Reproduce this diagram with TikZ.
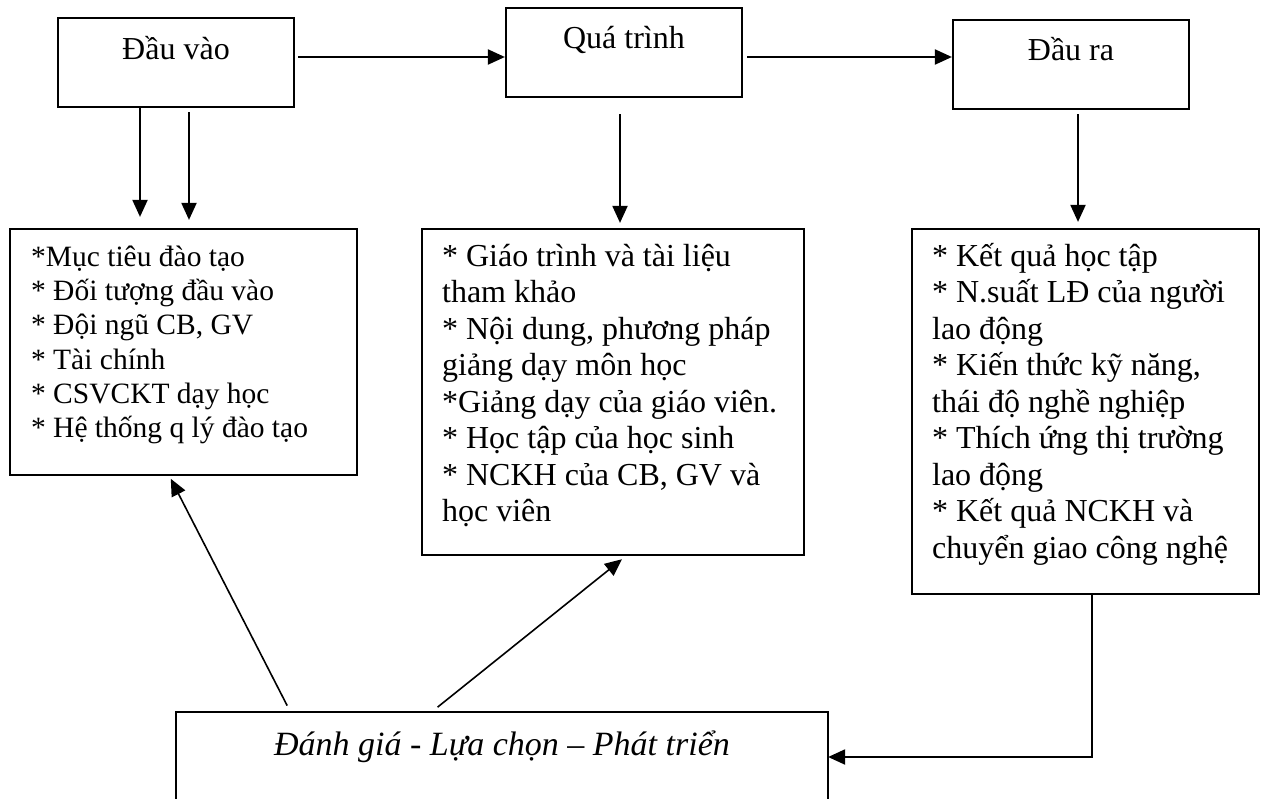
\documentclass[tikz,border=0pt]{standalone}
\usepackage{fontspec}
\setmainfont{Liberation Serif}
\usetikzlibrary{arrows.meta,calc}
\lineskiplimit=-100pt
\lineskip=0pt
\newcommand{\firstline}[1]{\vrule height #1 depth 0pt width 0pt}
\begin{document}
\begin{tikzpicture}[x=1pt,y=-1pt,
  box/.style={draw, rectangle, line width=2.2pt, inner sep=0pt},
  head/.style={inner sep=0pt, anchor=base, font=\fontsize{32}{36.5}\selectfont},
  list/.style={inner sep=0pt, anchor=north west, align=left},
  bigtext/.style={font=\fontsize{32}{36.5}\selectfont},
  smalltext/.style={font=\fontsize{29.5}{34.3}\selectfont},
  tip/.style={-{Triangle[length=17pt,width=15pt]}},
  arr/.style={tip, line width=2pt},
  slant/.style={tip, line width=1.6pt}]
\clip (0,0) rectangle (1265,798);
\fill[white] (0,0) rectangle (1265,798);

% top row: input, process, output
\node[box, minimum width=236pt, minimum height=89pt] (in)   at (176,62.5) {};
\node[box, minimum width=236pt, minimum height=89pt] (proc) at (624,52.5) {};
\node[box, minimum width=236pt, minimum height=89pt] (out)  at (1071,64.5) {};
\node[head] (inT)   at ([yshift=-43pt]in.north)   {Đầu vào};
\node[head] (procT) at ([yshift=-42pt]proc.north) {Quá trình};
\node[head] (outT)  at ([yshift=-42pt]out.north)  {Đầu ra};

% detail boxes
\node[box, minimum width=347pt, minimum height=246pt] (goals) at (183.5,352) {};
\node[box, minimum width=382pt, minimum height=326pt] (mid)   at (613,392) {};
\node[box, minimum width=347pt, minimum height=365pt] (res)   at (1085.5,411.5) {};

\node[list, smalltext] (goalsT) at ($(goals.north west)+(22,8)$) {%
\firstline{30pt}*Mục tiêu đào tạo\\
* Đối tượng đầu vào\\
* Đội ngũ CB, GV\\
* Tài chính\\
* CSVCKT dạy học\\
* Hệ thống q lý đào tạo};

\node[list, bigtext] (midT) at ($(mid.north west)+(21,6)$) {%
\firstline{32pt}* Giáo trình và tài liệu\\
tham khảo\\
* Nội dung, phương pháp\\
giảng dạy môn học\\
*Giảng dạy của giáo viên.\\
* Học tập của học sinh\\
* NCKH của CB, GV và\\
học viên};

\node[list, bigtext] (resT) at ($(res.north west)+(21,6)$) {%
\firstline{32pt}* Kết quả học tập\\
* N.suất LĐ của người\\
lao động\\
* Kiến thức kỹ năng,\\
thái độ nghề nghiệp\\
* Thích ứng thị trường\\
lao động\\
* Kết quả NCKH và\\
chuyển giao công nghệ};

% evaluation box (runs past the lower edge)
\node[box, minimum width=652pt, minimum height=128pt] (eval) at (502,776) {};
\node[inner sep=0pt, anchor=base, font=\fontsize{34}{40}\selectfont\itshape] (evalT)
  at ([yshift=-45pt]eval.north) {Đánh giá - Lựa chọn – Phát triển};

% helper positions
\coordinate (row) at (0,57);
\coordinate (xa) at (140,0);
\coordinate (xb) at (189,0);
\coordinate (xm) at (620,0);
\coordinate (xo) at (1078,0);
\coordinate (xr) at (1092,0);
\coordinate (yb) at (0,757);

% horizontal flow
\draw[arr, shorten <=3pt] (in.east |- row) -- (proc.west |- row);
\draw[arr, shorten <=4pt] (proc.east |- row) -- (out.west |- row);

% downward arrows
\draw[arr, shorten >=11pt] (in.south -| xa) -- (xa |- goals.north);
\draw[arr, shorten <=4pt, shorten >=8pt] (in.south -| xb) -- (xb |- goals.north);
\draw[arr, shorten <=16pt, shorten >=5pt] (proc.south -| xm) -- (xm |- mid.north);
\draw[arr, shorten <=4pt, shorten >=6pt] (out.south -| xo) -- (xo |- res.north);

% feedback from results to evaluation
\draw[arr, shorten >=-1pt] (res.south -| xr) |- (eval.east |- yb);

% evaluation back to inputs and process
\draw[slant, shorten <=6pt, shorten >=3pt]
  ($(eval.north west)+(115,0)$) -- ($(goals.south west)+(160.5,0)$);
\draw[slant, shorten <=6pt, shorten >=5pt]
  ($(eval.north west)+(258,0)$) -- ($(mid.south west)+(205,0)$);
\end{tikzpicture}
\end{document}
